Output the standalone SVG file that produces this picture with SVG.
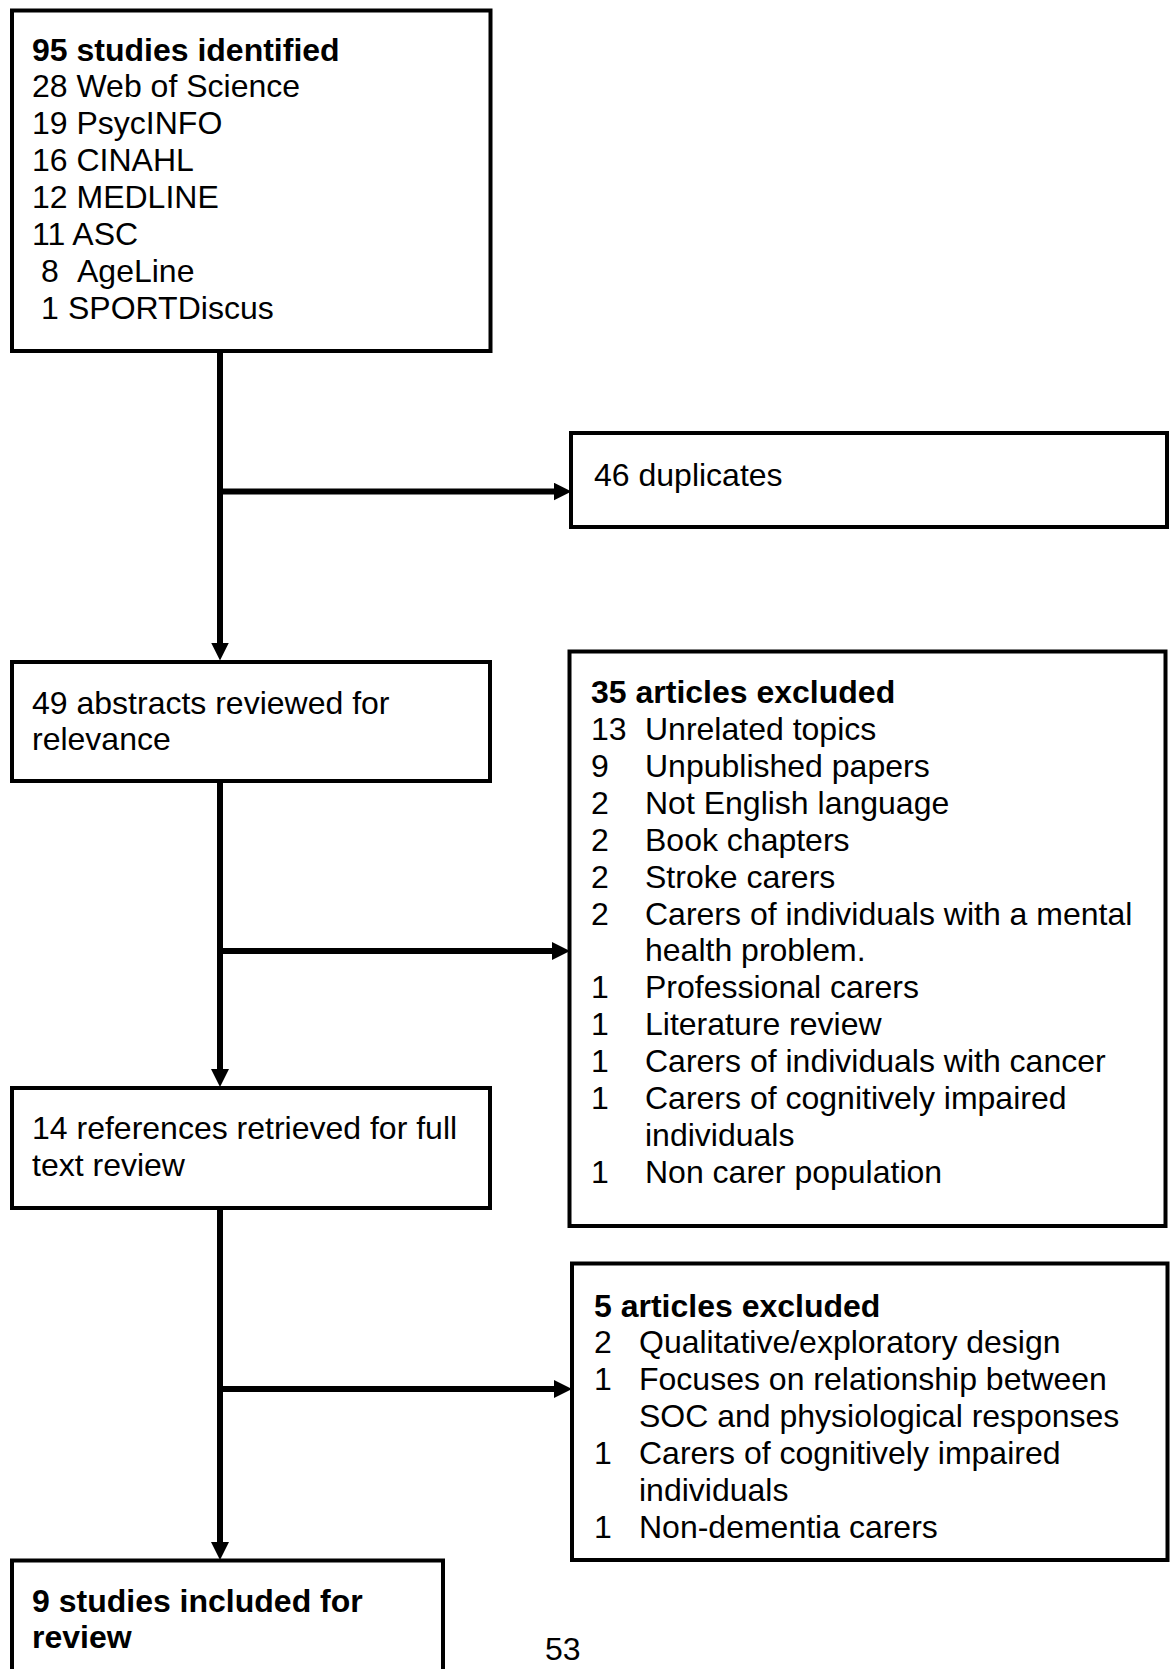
<svg xmlns="http://www.w3.org/2000/svg" width="1174" height="1669" viewBox="0 0 1174 1669">
<style>
.box{fill:#fff;stroke:#000;stroke-width:4}
.t{font-family:"Liberation Sans",Arial,sans-serif;font-size:32px;fill:#000}
.b{font-weight:bold}
.c{fill:none;stroke:#000;stroke-width:6}
</style>
<defs>
<marker id="ah" markerUnits="userSpaceOnUse" markerWidth="19" markerHeight="19" refX="4" refY="9" orient="auto">
<path d="M0,0 L18,9 L0,18 z" fill="#000"/>
</marker>
</defs>
<rect width="1174" height="1669" fill="#fff"/>
<g id="connectors">
<path class="c" d="M220,351 V646.5" marker-end="url(#ah)"/>
<path class="c" d="M220,491.5 H557.5" marker-end="url(#ah)"/>
<path class="c" d="M220,781 V1073" marker-end="url(#ah)"/>
<path class="c" d="M220,951 H556" marker-end="url(#ah)"/>
<path class="c" d="M220,1208 V1546" marker-end="url(#ah)"/>
<path class="c" d="M220,1389 H558" marker-end="url(#ah)"/>
</g>
<g id="n_identified">
<rect class="box" x="12" y="10.5" width="478.5" height="340.5"/>
<text class="t b" x="32" y="60.5">95 studies identified</text>
<text class="t" x="32" y="97.4">28 Web of Science</text>
<text class="t" x="32" y="134.2">19 PsycINFO</text>
<text class="t" x="32" y="171.1">16 CINAHL</text>
<text class="t" x="32" y="207.9">12 MEDLINE</text>
<text class="t" x="32" y="244.8">11 ASC</text>
<text class="t" y="281.6"><tspan x="41">8</tspan><tspan x="77">AgeLine</tspan></text>
<text class="t" y="318.5"><tspan x="41">1</tspan><tspan x="68">SPORTDiscus</tspan></text>
</g>
<g id="n_duplicates">
<rect class="box" x="571" y="433" width="596" height="94"/>
<text class="t" x="594" y="486">46 duplicates</text>
</g>
<g id="n_abstracts">
<rect class="box" x="12" y="662" width="478" height="119"/>
<text class="t" x="32" y="713.5">49 abstracts reviewed for</text>
<text class="t" x="32" y="750.4">relevance</text>
</g>
<g id="n_excluded35">
<rect class="box" x="569.5" y="651.5" width="596" height="574.5"/>
<text class="t b" x="591" y="703.4">35 articles excluded</text>
<text class="t" y="740.3"><tspan x="591">13</tspan><tspan x="645">Unrelated topics</tspan></text>
<text class="t" y="777.1"><tspan x="591">9</tspan><tspan x="645">Unpublished papers</tspan></text>
<text class="t" y="814"><tspan x="591">2</tspan><tspan x="645">Not English language</tspan></text>
<text class="t" y="850.8"><tspan x="591">2</tspan><tspan x="645">Book chapters</tspan></text>
<text class="t" y="887.7"><tspan x="591">2</tspan><tspan x="645">Stroke carers</tspan></text>
<text class="t" y="924.5"><tspan x="591">2</tspan><tspan x="645">Carers of individuals with a mental</tspan></text>
<text class="t" x="645" y="961.4">health problem.</text>
<text class="t" y="998.2"><tspan x="591">1</tspan><tspan x="645">Professional carers</tspan></text>
<text class="t" y="1035.1"><tspan x="591">1</tspan><tspan x="645">Literature review</tspan></text>
<text class="t" y="1071.9"><tspan x="591">1</tspan><tspan x="645">Carers of individuals with cancer</tspan></text>
<text class="t" y="1108.8"><tspan x="591">1</tspan><tspan x="645">Carers of cognitively impaired</tspan></text>
<text class="t" x="645" y="1145.6">individuals</text>
<text class="t" y="1182.5"><tspan x="591">1</tspan><tspan x="645">Non carer population</tspan></text>
</g>
<g id="n_fulltext">
<rect class="box" x="12" y="1088" width="478" height="120"/>
<text class="t" x="32" y="1138.7">14 references retrieved for full</text>
<text class="t" x="32" y="1175.5">text review</text>
</g>
<g id="n_excluded5">
<rect class="box" x="572" y="1263.5" width="595.5" height="296.5"/>
<text class="t b" x="594" y="1316.5">5 articles excluded</text>
<text class="t" y="1353.3"><tspan x="594">2</tspan><tspan x="639">Qualitative/exploratory design</tspan></text>
<text class="t" y="1390.2"><tspan x="594">1</tspan><tspan x="639">Focuses on relationship between</tspan></text>
<text class="t" x="639" y="1427">SOC and physiological responses</text>
<text class="t" y="1463.9"><tspan x="594">1</tspan><tspan x="639">Carers of cognitively impaired</tspan></text>
<text class="t" x="639" y="1500.7">individuals</text>
<text class="t" y="1537.6"><tspan x="594">1</tspan><tspan x="639">Non-dementia carers</tspan></text>
</g>
<g id="n_included">
<rect class="box" x="12" y="1560.5" width="431" height="200"/>
<text class="t b" x="32" y="1611.5">9 studies included for</text>
<text class="t b" x="32" y="1648.4">review</text>
</g>
<text class="t" x="545" y="1659.5">53</text>
</svg>
